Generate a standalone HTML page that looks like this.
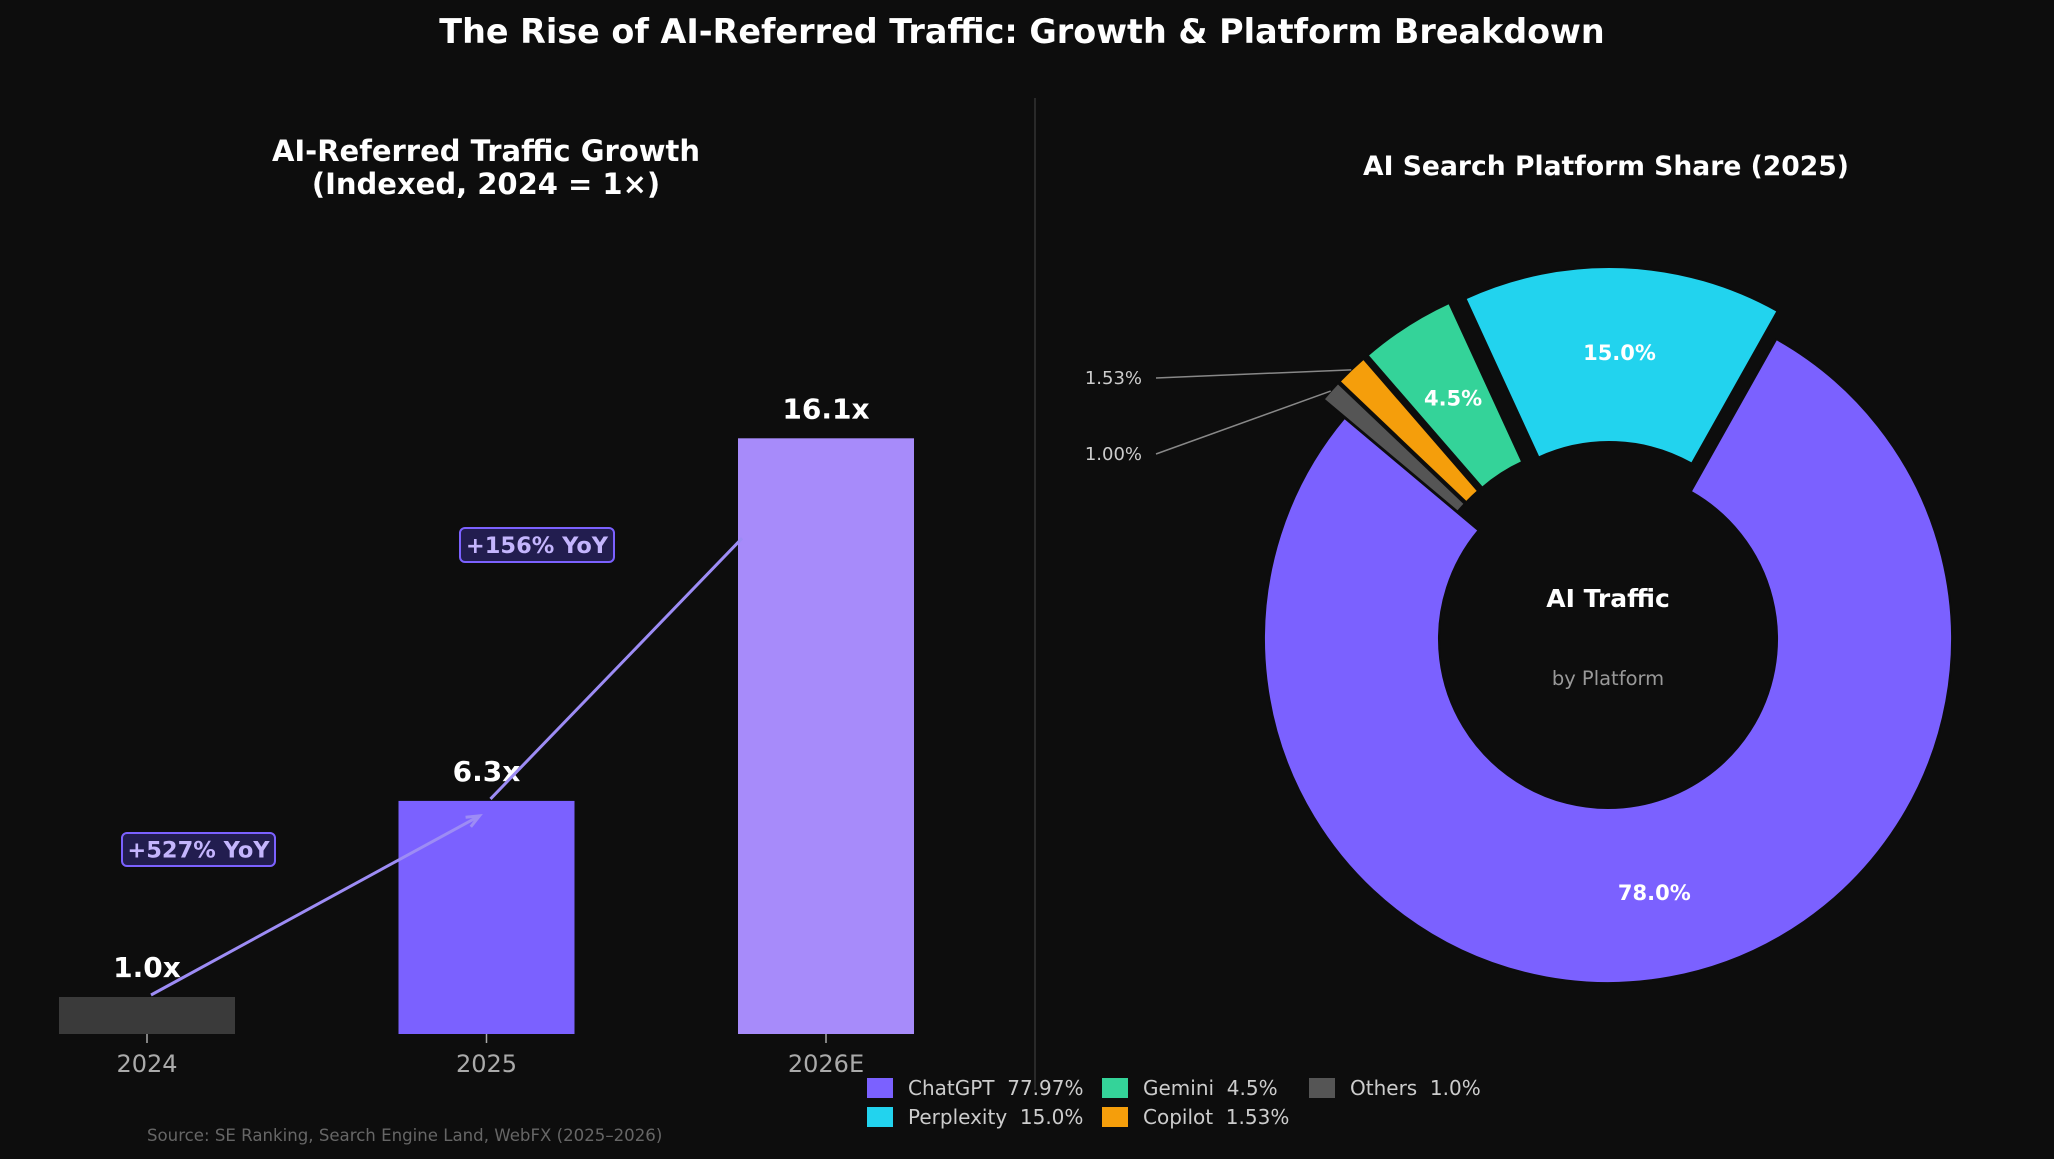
<!DOCTYPE html>
<html><head><meta charset="utf-8"><style>
body{margin:0;background:#0d0d0d;}
svg{display:block;font-family:"DejaVu Sans","Liberation Sans",sans-serif;}
</style></head><body>
<svg id="chart" width="2054" height="1159" viewBox="0 0 2054 1159" xmlns="http://www.w3.org/2000/svg">
<rect width="2054" height="1159" fill="#0d0d0d"/>
<text x="1022" y="43" text-anchor="middle" fill="#fff" font-size="33.4" font-weight="bold">The Rise of AI-Referred Traffic: Growth &amp; Platform Breakdown</text>
<text x="486" y="161" text-anchor="middle" fill="#fff" font-size="29" font-weight="bold">AI-Referred Traffic Growth</text>
<text x="486" y="194" text-anchor="middle" fill="#fff" font-size="29" font-weight="bold">(Indexed, 2024 = 1×)</text>
<text x="1606" y="175" text-anchor="middle" fill="#fff" font-size="26.6" font-weight="bold">AI Search Platform Share (2025)</text>
<line x1="1035" y1="98" x2="1035" y2="1090" stroke="#333" stroke-width="1.5"/>
<g id="bars"></g>
<g id="pie"></g>
<text x="147" y="1141" fill="#666" font-size="16.6">Source: SE Ranking, Search Engine Land, WebFX (2025–2026)</text>
<g id="legend"></g>
</svg>
<script>
const categories = ["2024", "2025", "2026E"];
const values = [1.0, 6.3, 16.1];
const valueLabels = ["1.0x", "6.3x", "16.1x"];
const yoyLabels = ["+527% YoY", "+156% YoY"];
const platforms = ["ChatGPT", "Perplexity", "Gemini", "Copilot", "Others"];
const shares = [77.97, 15.0, 4.5, 1.53, 1.0];
const legendLabels = ["ChatGPT  77.97%", "Perplexity  15.0%", "Gemini  4.5%", "Copilot  1.53%", "Others  1.0%"];

const NS = "http://www.w3.org/2000/svg";
function mk(tag, attrs, parent, txt){const e=document.createElementNS(NS,tag);for(const k in attrs)e.setAttribute(k,attrs[k]);if(txt!==undefined)e.textContent=txt;parent.appendChild(e);return e;}

const base = 1034, unit = 37, x0 = 147, step = 339.5, bw = 176;
const xs = i => x0 + i*step;
const ys = v => base - v*unit;
const barColors = ["#3a3a3a", "#7b61ff", "#a78bfa"];
const bars = document.getElementById("bars");
categories.forEach((c,i)=>{
  const r = mk("rect",{x:xs(i)-bw/2,y:ys(values[i]),width:bw,height:base-ys(values[i]),fill:barColors[i]},bars);
  
  
  const t = mk("line",{x1:xs(i),y1:base,x2:xs(i),y2:base+9,stroke:"#aaa","stroke-width":1.5},bars);
  
  
  const l = mk("text",{x:xs(i),y:base+38,"text-anchor":"middle",fill:"#aaa","font-size":24},bars,c);
  
  
  const v = mk("text",{x:xs(i),y:ys(values[i])-20,"text-anchor":"middle",fill:"#fff","font-size":28,"font-weight":"bold"},bars,valueLabels[i]);
  
  
});
for(let i=0;i<2;i++){
  const xa=xs(i)+4, ya=ys(values[i])-2, xb=xs(i+1)-(i==0?7:-2+bw/2-2), yb=ys(values[i+1])+(i==0?15:100);
  const a = mk("line",{x1:xa,y1:ya,x2:xb,y2:yb,stroke:"#9d8cf5","stroke-width":3},bars);
  
  
  if(i==0){
    const ang=Math.atan2(yb-ya,xb-xa);
    const p=[[xb,yb],[xb-14*Math.cos(ang-0.4),yb-14*Math.sin(ang-0.4)],[xb-14*Math.cos(ang+0.4),yb-14*Math.sin(ang+0.4)]];
    const h=mk("polyline",{points:p[1].join(",")+" "+p[0].join(",")+" "+p[2].join(","),fill:"none",stroke:"#9d8cf5","stroke-width":3},bars);
    
    
  }
}
const boxes=[[122,833,153,33],[460,528,154,34]];
yoyLabels.forEach((t,i)=>{
  const b=boxes[i];
  const r=mk("rect",{x:b[0],y:b[1],width:b[2],height:b[3],rx:5,fill:"#221d4f",stroke:"#7b61ff","stroke-width":2},bars);
  
  
  const tx=mk("text",{x:b[0]+b[2]/2,y:b[1]+b[3]/2+8,"text-anchor":"middle",fill:"#c4b5fd","font-size":22.5,"font-weight":"bold"},bars,t);
  
  
});

const pie=document.getElementById("pie");
const cx=1608, cy=639, R=344, r0=169;
const pieColors=["#7b61ff","#22d3ee","#34d399","#f59e0b","#555555"];
const explode=[0,28,28,28,28];
const total=shares.reduce((a,b)=>a+b,0);
let ang=140;
const rad=d=>d*Math.PI/180;
shares.forEach((s,i)=>{
  const sweep=s/total*360, a1=ang, a2=ang+sweep, mid=(a1+a2)/2;
  const ox=explode[i]*Math.cos(rad(mid)), oy=-explode[i]*Math.sin(rad(mid));
  const P=(rr,a)=>[cx+ox+rr*Math.cos(rad(a)), cy+oy-rr*Math.sin(rad(a))];
  const large=sweep>180?1:0;
  const p1=P(R,a1),p2=P(R,a2),p3=P(r0,a2),p4=P(r0,a1);
  const d=`M${p1} A${R},${R} 0 ${large} 0 ${p2} L${p3} A${r0},${r0} 0 ${large} 1 ${p4} Z`;
  const w=mk("path",{d:d,fill:pieColors[i],stroke:"#0d0d0d","stroke-width":2},pie);
  
  
  if(s>=4){
    const lp=P(258,mid);
    const t=mk("text",{x:lp[0],y:lp[1]+7,"text-anchor":"middle",fill:"#fff","font-size":21,"font-weight":"bold"},pie,(s).toFixed(1)+"%");
    
    
  } else {
    const lp=P(R,mid);
    const ty = i==3?378:454;
    const ln=mk("line",{x1:1156,y1:ty,x2:lp[0],y2:lp[1],stroke:"#888","stroke-width":1.5},pie);
    
    
    const t=mk("text",{x:1142,y:ty+6,"text-anchor":"end",fill:"#ccc","font-size":18},pie,s.toFixed(2)+"%");
    
    
  }
  ang=a2;
});
const c1=mk("text",{x:cx,y:607,"text-anchor":"middle",fill:"#fff","font-size":25,"font-weight":"bold"},pie,"AI Traffic");


const c2=mk("text",{x:cx,y:685,"text-anchor":"middle",fill:"#999","font-size":19.5},pie,"by Platform");



const lg=document.getElementById("legend");
const colX=[867,1102,1309], rowY=[1088,1117];
platforms.forEach((p,i)=>{
  const col=Math.floor(i/2), row=i%2;
  const sq=mk("rect",{x:colX[col],y:rowY[row]-10,width:26,height:20,fill:pieColors[i]},lg);
  
  
  const t=mk("text",{x:colX[col]+41,y:rowY[row]+7,fill:"#ccc","font-size":20},lg,legendLabels[i]);
  
  
  t.setAttribute('xml:space','preserve');
  t.style.whiteSpace='pre';
});
</script>
</body></html>
